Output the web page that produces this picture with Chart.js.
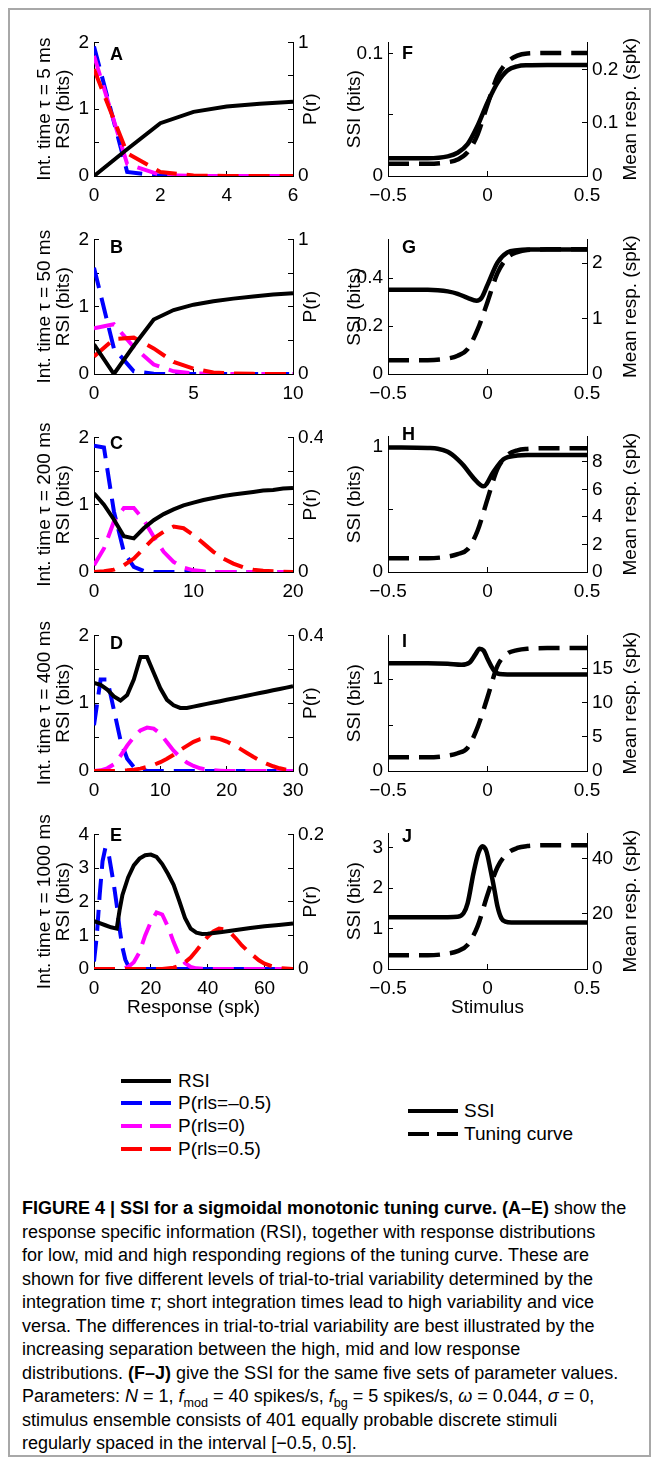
<!DOCTYPE html>
<html>
<head>
<meta charset="utf-8">
<title>SSI for a sigmoidal monotonic tuning curve</title>
<script src="https://cdn.jsdelivr.net/npm/chart.js@4.4.1/dist/chart.umd.min.js"></script>
<style>
  html, body { margin: 0; padding: 0; background: #fff; }
  body { position: relative; width: 659px; height: 1465px; overflow: hidden;
         font-family: 'Liberation Sans', Arial, sans-serif; color: #000; }
  .frame { position: absolute; left: 8px; top: 8px; width: 643px; height: 1449px;
           border: 2px solid #a8a8a8; box-sizing: border-box; }
  canvas { position: absolute; }
  .key { position: absolute; height: 20px; font-size: 19px; line-height: 20px; white-space: nowrap; }
  .key span { position: absolute; top: 8px; height: 4px; }
  .key em { position: absolute; font-style: normal; }
  .caption { position: absolute; left: 22px; top: 1197px;
             font-family: 'Liberation Sans Narrow', 'Liberation Sans', sans-serif;
             font-size: 18px; line-height: 23.5px; }
  .caption div { white-space: nowrap; }
  .caption sub { font-size: 0.7em; line-height: 0; }
</style>
</head>
<body>
<div class="frame"></div>

<div class="key" style="left:121px; top:1071px"><span style="left:0; width:50px; background:#000"></span><em style="left:57px">RSI</em></div>
<div class="key" style="left:121px; top:1093px"><span style="left:0; width:21px; background:#0000ff"></span><span style="left:29px; width:21px; background:#0000ff"></span><em style="left:57px">P(rls=–0.5)</em></div>
<div class="key" style="left:121px; top:1116px"><span style="left:0; width:21px; background:#ff00ff"></span><span style="left:29px; width:21px; background:#ff00ff"></span><em style="left:57px">P(rls=0)</em></div>
<div class="key" style="left:121px; top:1139px"><span style="left:0; width:21px; background:#ff0000"></span><span style="left:29px; width:21px; background:#ff0000"></span><em style="left:57px">P(rls=0.5)</em></div>
<div class="key" style="left:408px; top:1101px"><span style="left:0; width:50px; background:#000"></span><em style="left:56px">SSI</em></div>
<div class="key" style="left:408px; top:1124px"><span style="left:0; width:21px; background:#000"></span><span style="left:29px; width:21px; background:#000"></span><em style="left:56px">Tuning curve</em></div>

<div class="caption">
  <div><b>FIGURE 4 | SSI for a sigmoidal monotonic tuning curve. (A–E)</b> show the</div>
  <div>response specific information (RSI), together with response distributions</div>
  <div>for low, mid and high responding regions of the tuning curve. These are</div>
  <div>shown for five different levels of trial-to-trial variability determined by the</div>
  <div>integration time <i>τ</i>; short integration times lead to high variability and vice</div>
  <div>versa. The differences in trial-to-trial variability are best illustrated by the</div>
  <div>increasing separation between the high, mid and low response</div>
  <div>distributions. <b>(F–J)</b> give the SSI for the same five sets of parameter values.</div>
  <div>Parameters: <i>N</i> = 1, <i>f</i><sub>mod</sub> = 40 spikes/s, <i>f</i><sub>bg</sub> = 5 spikes/s, <i>ω</i> = 0.044, <i>σ</i> = 0,</div>
  <div>stimulus ensemble consists of 401 equally probable discrete stimuli</div>
  <div>regularly spaced in the interval [−0.5, 0.5].</div>
</div>

<script>
// ---- panel A (tau = 5 ms) ----
const rA = [0, 1, 2, 3, 4, 5, 6];
const rsiA = [0, 0.4, 0.79, 0.96, 1.04, 1.08, 1.11];
const pLowA = [0.97, 0.03, 0.002, 0, 0, 0, 0];
const pMidA = [0.9, 0.09, 0.008, 0, 0, 0, 0];
const pHighA = [0.8, 0.17, 0.03, 0.004, 0, 0, 0];

// ---- panel B (tau = 50 ms) ----
const rB = [0, 1, 2, 3, 4, 5, 6, 7, 8, 9, 10];
const rsiB = [0.44, 0, 0.42, 0.81, 0.95, 1.03, 1.08, 1.12, 1.15, 1.18, 1.2];
const pLowB = [0.79, 0.19, 0.02, 0.002, 0, 0, 0, 0, 0, 0, 0];
const pMidB = [0.34, 0.37, 0.2, 0.07, 0.02, 0.005, 0.001, 0, 0, 0, 0];
const pHighB = [0.13, 0.26, 0.27, 0.19, 0.09, 0.04, 0.012, 0.004, 0.001, 0, 0];

// ---- panel C (tau = 200 ms) ----
const rC = [0, 1, 2, 3, 4, 5, 6, 7, 8, 9, 10, 11, 12, 13, 14, 15, 16, 17, 18, 19, 20];
const rsiC = [1.17, 1.0, 0.78, 0.53, 0.5, 0.65, 0.77, 0.86, 0.93, 0.99, 1.03, 1.07, 1.1, 1.13, 1.15, 1.17, 1.19, 1.21, 1.22, 1.24, 1.25];
const pLowC = [0.375, 0.37, 0.18, 0.06, 0.015, 0.003, 0, 0, 0, 0, 0, 0, 0, 0, 0, 0, 0, 0, 0, 0, 0];
const pMidC = [0.02, 0.07, 0.15, 0.19, 0.19, 0.155, 0.105, 0.06, 0.03, 0.013, 0.005, 0.002, 0, 0, 0, 0, 0, 0, 0, 0, 0];
const pHighC = [0, 0.002, 0.007, 0.02, 0.04, 0.07, 0.1, 0.12, 0.135, 0.13, 0.11, 0.085, 0.06, 0.04, 0.025, 0.014, 0.007, 0.004, 0.002, 0.001, 0];

// ---- panel D (tau = 400 ms) ----
const rD = [0, 1, 2, 3, 4, 5, 6, 7, 8, 9, 10, 11, 12, 13, 14, 15, 16, 17, 18, 19, 20, 21, 22, 23, 24, 25, 26, 27, 28, 29, 30];
const rsiD = [1.3, 1.27, 1.2, 1.1, 1.04, 1.12, 1.35, 1.68, 1.68, 1.45, 1.22, 1.05, 0.97, 0.93, 0.93, 0.95, 0.97, 0.99, 1.01, 1.03, 1.05, 1.07, 1.09, 1.11, 1.13, 1.15, 1.17, 1.19, 1.21, 1.23, 1.25];
const pLowD = [0.135, 0.27, 0.27, 0.18, 0.09, 0.036, 0.012, 0.003, 0.001, 0, 0, 0, 0, 0, 0, 0, 0, 0, 0, 0, 0, 0, 0, 0, 0, 0, 0, 0, 0, 0, 0];
const pMidD = [0, 0.002, 0.008, 0.02, 0.045, 0.075, 0.1, 0.12, 0.128, 0.125, 0.11, 0.085, 0.06, 0.04, 0.025, 0.015, 0.008, 0.004, 0.002, 0.001, 0, 0, 0, 0, 0, 0, 0, 0, 0, 0, 0];
const pHighD = [0, 0, 0, 0, 0.001, 0.002, 0.004, 0.007, 0.012, 0.018, 0.026, 0.036, 0.048, 0.062, 0.074, 0.086, 0.094, 0.098, 0.098, 0.094, 0.087, 0.077, 0.066, 0.054, 0.042, 0.031, 0.022, 0.014, 0.008, 0.004, 0.002];

// ---- panel E (tau = 1000 ms) ----
const rRsiE = [0, 2, 4, 6, 8, 9, 10, 12, 14, 16, 18, 20, 22, 24, 26, 28, 30, 32, 34, 36, 38, 40, 45, 50, 55, 60, 65, 70];
const rsiE = [1.42, 1.36, 1.3, 1.24, 1.2, 1.75, 2.2, 2.72, 3.08, 3.28, 3.38, 3.4, 3.33, 3.12, 2.83, 2.5, 2.02, 1.52, 1.2, 1.08, 1.04, 1.05, 1.1, 1.16, 1.22, 1.27, 1.31, 1.35];
const rLowE = [0, 1, 2, 3, 4, 5, 6, 7, 8, 9, 10, 11, 12, 13, 14, 70];
const pLowE = [0.011, 0.05, 0.11, 0.16, 0.18, 0.175, 0.15, 0.125, 0.095, 0.06, 0.032, 0.014, 0.005, 0.001, 0, 0];
const rMidE = [0, 10, 12, 14, 16, 18, 20, 22, 24, 26, 28, 30, 32, 34, 36, 40, 70];
const pMidE = [0, 0, 0.003, 0.01, 0.025, 0.05, 0.07, 0.084, 0.081, 0.063, 0.04, 0.02, 0.009, 0.003, 0.001, 0, 0];
const rHighE = [0, 24, 28, 30, 32, 34, 36, 38, 40, 42, 44, 46, 48, 50, 52, 54, 56, 58, 60, 62, 64, 66, 70];
const pHighE = [0, 0, 0.002, 0.005, 0.01, 0.017, 0.027, 0.038, 0.048, 0.056, 0.06, 0.059, 0.054, 0.045, 0.035, 0.027, 0.02, 0.013, 0.008, 0.005, 0.003, 0.001, 0];

// ---- panels F-J: SSI and tuning curve against stimulus ----
const sResp = [-0.5, -0.3, -0.2, -0.15, -0.1, -0.05, 0, 0.05, 0.1, 0.15, 0.2, 0.3, 0.5];

const sF = [-0.5, -0.3, -0.2, -0.15, -0.1, -0.05, 0, 0.05, 0.1, 0.15, 0.2, 0.3, 0.5];
const ssiF = [0.0145, 0.0145, 0.016, 0.019, 0.026, 0.041, 0.06, 0.076, 0.086, 0.0895, 0.0903, 0.0905, 0.0905];
const respF = [0.023, 0.023, 0.026, 0.031, 0.045, 0.078, 0.135, 0.188, 0.215, 0.227, 0.231, 0.232, 0.232];

const sG = [-0.5, -0.3, -0.25, -0.2, -0.15, -0.1, -0.055, -0.03, 0, 0.05, 0.1, 0.15, 0.2, 0.3, 0.5];
const ssiG = [0.352, 0.352, 0.35, 0.345, 0.335, 0.318, 0.306, 0.318, 0.372, 0.465, 0.508, 0.517, 0.52, 0.52, 0.52];
const respG = [0.25, 0.25, 0.28, 0.33, 0.45, 0.8, 1.3, 1.82, 2.1, 2.2, 2.24, 2.25, 2.25];

const sH = [-0.5, -0.3, -0.25, -0.2, -0.15, -0.12, -0.07, -0.02, 0.03, 0.08, 0.15, 0.2, 0.5];
const ssiH = [0.995, 0.99, 0.985, 0.96, 0.9, 0.85, 0.75, 0.684, 0.8, 0.9, 0.93, 0.935, 0.935];
const respH = [1, 1, 1.12, 1.3, 1.65, 3.0, 5.3, 7.5, 8.5, 8.85, 8.95, 9, 9];

const sI = [-0.5, -0.3, -0.2, -0.13, -0.09, -0.06, -0.04, -0.02, 0, 0.03, 0.06, 0.1, 0.5];
const ssiI = [1.17, 1.17, 1.165, 1.155, 1.18, 1.27, 1.33, 1.31, 1.22, 1.1, 1.055, 1.05, 1.05];
const respI = [2, 2, 2.25, 2.6, 3.4, 6.4, 10.8, 15.4, 17.2, 17.7, 17.9, 18, 18];

const sJ = [-0.5, -0.2, -0.15, -0.12, -0.1, -0.07, -0.045, -0.025, -0.005, 0.015, 0.035, 0.05, 0.07, 0.09, 0.12, 0.5];
const ssiJ = [1.28, 1.28, 1.29, 1.38, 1.62, 2.38, 2.88, 3.03, 2.9, 2.45, 1.95, 1.55, 1.25, 1.17, 1.15, 1.15];
const respJ = [5, 5, 5.6, 6.5, 8.8, 15.5, 27, 37, 42, 44, 44.7, 45, 45];

// ---- tick values and tick labels ----
const ticksStim = [-0.5, 0, 0.5];
const labelsStim = ['−0.5', '0', '0.5'];
const ticksRsi2 = [0, 0.5, 1, 1.5, 2];
const labelsRsi2 = ['0', '', '1', '', '2'];
const ticksRsi4 = [0, 1, 2, 3, 4];
const labelsRsi4 = ['0', '1', '2', '3', '4'];

const tauLabels = ['5', '50', '200', '400', '1000'];

const BLACK = '#000000', BLUE = '#0000ff', MAGENTA = '#ff00ff', RED = '#ff0000';
const FONT = "'Liberation Sans', Arial, sans-serif";
Chart.defaults.font.family = FONT;
Chart.defaults.color = '#000';

// letters and right-hand axis titles (rotated the same way as the left ones)
const panelText = {
  id: 'panelText',
  afterDraw(chart, args, opts) {
    const { ctx, chartArea: a } = chart;
    ctx.save();
    ctx.fillStyle = '#000';
    ctx.textBaseline = 'middle';
    ctx.font = 'bold 18px ' + FONT;
    ctx.textAlign = 'left';
    ctx.fillText(opts.letter, a.left + opts.letterX, a.top + opts.letterY);
    ctx.font = '19px ' + FONT;
    ctx.translate(a.right + opts.rightOff, (a.top + a.bottom) / 2);
    ctx.rotate(-Math.PI / 2);
    ctx.textAlign = 'center';
    ctx.fillText(opts.rightTitle, 0, 0);
    ctx.restore();
  }
};

function axis(pos, min, max, ticks, labels, size, title, titlePad) {
  return {
    type: 'linear', position: pos, min: min, max: max,
    grid: { drawOnChartArea: false, tickLength: -5, color: '#000', lineWidth: 1 },
    border: { display: true, color: '#000', width: 1 },
    ticks: {
      padding: pos === 'bottom' ? 13 : 10, autoSkip: false, maxRotation: 0, color: '#000',
      font: { size: 19 },
      callback: (v, i) => labels[i]
    },
    afterBuildTicks: s => { s.ticks = ticks.map(v => ({ value: v })); },
    afterFit: s => { if (pos === 'bottom') s.height = size; else s.width = size; },
    title: title ? {
      display: true, text: title, color: '#000',
      font: { size: 19, lineHeight: 1.0 },
      padding: pos === 'bottom' ? { top: 0, bottom: titlePad } : { top: titlePad, bottom: 0 }
    } : { display: false }
  };
}

function series(xs, ys, color, dashed, axisId, width) {
  return {
    data: xs.map((x, i) => ({ x: x, y: ys[i] })),
    yAxisID: axisId, borderColor: color, borderWidth: width,
    borderDash: dashed ? [21, 10] : [], borderCapStyle: 'butt',
    pointRadius: 0, fill: false
  };
}

function panel(p) {
  const canvas = document.createElement('canvas');
  canvas.width = p.w; canvas.height = p.h;
  canvas.style.left = p.left + 'px';
  canvas.style.top = p.top + 'px';
  document.body.appendChild(canvas);
  new Chart(canvas, {
    type: 'line',
    data: { datasets: p.datasets },
    options: {
      responsive: false, animation: false, events: [],
      layout: { padding: { top: 14, left: 0, right: 0, bottom: 0 } },
      elements: { line: { tension: p.smooth ? 0.4 : 0, cubicInterpolationMode: p.smooth ? 'monotone' : 'default' } },
      plugins: {
        legend: { display: false }, tooltip: { enabled: false },
        panelText: { letter: p.letter, letterX: p.letterX, letterY: p.letterY, rightTitle: p.rightTitle, rightOff: p.rightOff }
      },
      scales: { x: p.x, y: p.y, y2: p.y2 }
    },
    plugins: [panelText]
  });
}

// ---- left column: RSI and response distributions ----
const leftRows = [
  { letter: 'A', top: 35, bottom: 176, letterY: 13, xmax: 6, xt: [0, 2, 4, 6], pmax: 1, pt: [0, 0.25, 0.5, 0.75, 1], pl: ['0', '', '', '', '1'],
    sets: [[rA, rsiA], [rA, pHighA], [rA, pMidA], [rA, pLowA]] },
  { letter: 'B', top: 232, bottom: 374, letterY: 9, xmax: 10, xt: [0, 5, 10], pmax: 1, pt: [0, 0.25, 0.5, 0.75, 1], pl: ['0', '', '', '', '1'],
    sets: [[rB, rsiB], [rB, pHighB], [rB, pMidB], [rB, pLowB]] },
  { letter: 'C', top: 430, bottom: 572, letterY: 7, xmax: 20, xt: [0, 10, 20], pmax: 0.4, pt: [0, 0.1, 0.2, 0.3, 0.4], pl: ['0', '', '', '', '0.4'],
    sets: [[rC, rsiC], [rC, pHighC], [rC, pMidC], [rC, pLowC]] },
  { letter: 'D', top: 628, bottom: 771, letterY: 9, xmax: 30, xt: [0, 10, 20, 30], pmax: 0.4, pt: [0, 0.1, 0.2, 0.3, 0.4], pl: ['0', '', '', '', '0.4'],
    sets: [[rD, rsiD], [rD, pHighD], [rD, pMidD], [rD, pLowD]] },
  { letter: 'E', top: 827, bottom: 969, letterY: 2, xmax: 70, xt: [0, 20, 40, 60], pmax: 0.2, pt: [0, 0.05, 0.1, 0.15, 0.2], pl: ['0', '', '', '', '0.2'],
    sets: [[rRsiE, rsiE], [rHighE, pHighE], [rMidE, pMidE], [rLowE, pLowE]], xTitle: 'Response (spk)' }
];

leftRows.forEach((r, k) => {
  const hx = r.xTitle ? 52 : 30;
  const big = r.letter === 'E';
  panel({
    left: 28, w: 295, top: r.top - 14, h: 14 + (r.bottom - r.top) + hx,
    letter: r.letter, letterX: 16, letterY: r.letterY, rightTitle: 'P(r)', rightOff: 18, smooth: false,
    datasets: [
      series(r.sets[0][0], r.sets[0][1], BLACK, false, 'y', 4),
      series(r.sets[1][0], r.sets[1][1], RED, true, 'y2', 4),
      series(r.sets[2][0], r.sets[2][1], MAGENTA, true, 'y2', 4),
      series(r.sets[3][0], r.sets[3][1], BLUE, true, 'y2', 4)
    ],
    x: axis('bottom', 0, r.xmax, r.xt, r.xt.map(String), hx, r.xTitle || null, 3.5),
    y: axis('left', 0, big ? 4 : 2, big ? ticksRsi4 : ticksRsi2, big ? labelsRsi4 : labelsRsi2, 66,
            ['Int. time τ = ' + tauLabels[k] + ' ms', 'RSI (bits)'], 7.5),
    y2: axis('right', 0, r.pmax, r.pt, r.pl, 30, null, 0)
  });
});

// ---- right column: SSI and tuning curve ----
const rightRows = [
  { letter: 'F', top: 35, bottom: 176, letterY: 12, smax: 0.109, st: [0, 0.05, 0.1], sl: ['0', '', '0.1'],
    mmax: 0.252, mt: [0, 0.1, 0.2], ml: ['0', '0.1', '0.2'], s: sF, ssi: ssiF, resp: respF },
  { letter: 'G', top: 232, bottom: 374, letterY: 9, smax: 0.562, st: [0, 0.2, 0.4], sl: ['0', '0.2', '0.4'],
    mmax: 2.43, mt: [0, 1, 2], ml: ['0', '1', '2'], s: sG, ssi: ssiG, resp: respG },
  { letter: 'H', top: 429, bottom: 572, letterY: -1, smax: 1.083, st: [0, 0.5, 1], sl: ['0', '', '1'],
    mmax: 9.86, mt: [0, 2, 4, 6, 8], ml: ['0', '2', '4', '6', '8'], s: sH, ssi: ssiH, resp: respH },
  { letter: 'I', top: 628, bottom: 771, letterY: 7, smax: 1.474, st: [0, 0.5, 1], sl: ['0', '', '1'],
    mmax: 19.86, mt: [0, 5, 10, 15], ml: ['0', '5', '10', '15'], s: sI, ssi: ssiI, resp: respI },
  { letter: 'J', top: 826, bottom: 969, letterY: 4, smax: 3.35, st: [0, 1, 2, 3], sl: ['0', '1', '2', '3'],
    mmax: 49.3, mt: [0, 20, 40], ml: ['0', '20', '40'], s: sJ, ssi: ssiJ, resp: respJ, xTitle: 'Stimulus' }
];

rightRows.forEach(r => {
  const hx = r.xTitle ? 52 : 30;
  panel({
    left: 340, w: 310, top: r.top - 14, h: 14 + (r.bottom - r.top) + hx,
    letter: r.letter, letterX: 14, letterY: r.letterY, rightTitle: 'Mean resp. (spk)', rightOff: 44, smooth: true,
    datasets: [
      series(r.s, r.ssi, BLACK, false, 'y', 4.5),
      series(sResp, r.resp, BLACK, true, 'y2', 4.5)
    ],
    x: axis('bottom', -0.5, 0.5, ticksStim, labelsStim, hx, r.xTitle || null, 3.5),
    y: axis('left', 0, r.smax, r.st, r.sl, 48, 'SSI (bits)', 5.5),
    y2: axis('right', 0, r.mmax, r.mt, r.ml, 63, null, 0)
  });
});
</script>
</body>
</html>
